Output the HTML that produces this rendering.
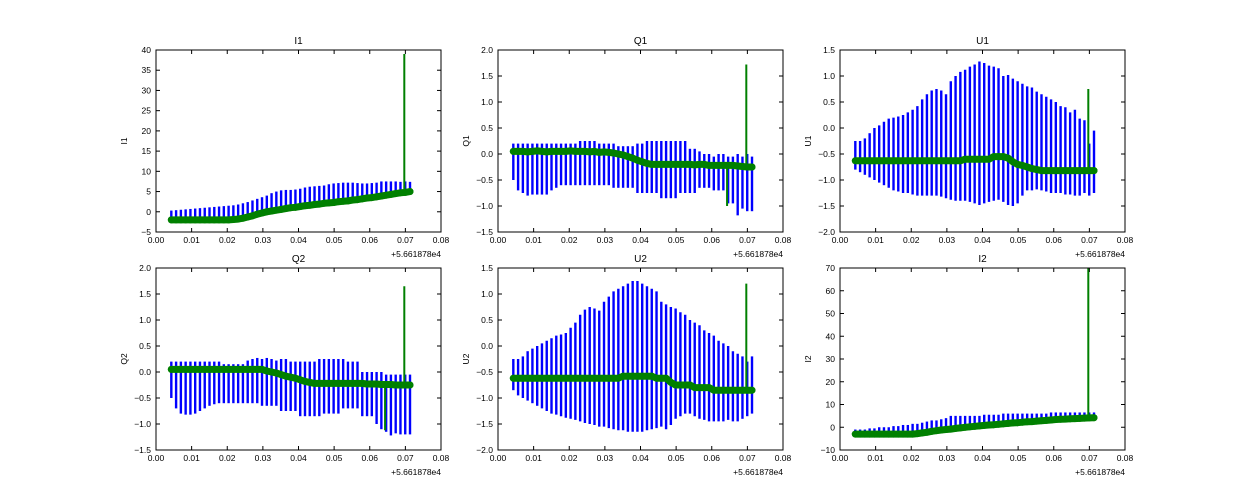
<!DOCTYPE html>
<html><head><meta charset="utf-8">
<style>
body{margin:0;background:#fff;}
svg{display:block;font-family:"Liberation Sans","DejaVu Sans",sans-serif;}
</style></head>
<body>
<svg id="chart" width="1250" height="500" viewBox="0 0 1250 500"></svg>
<script>
// ---- data ----
const xStart = 0.0043;
const xStep = 0.00134;
const xTicks = [0.00,0.01,0.02,0.03,0.04,0.05,0.06,0.07,0.08];
const offsetLabel = "+5.661878e4";

const i1Center = [-2,-2,-2,-2,-2,-2,-2,-2,-2,-2,-2,-2,-2,-1.9,-1.8,-1.6,-1.3,-1.0,-0.6,-0.3,0,0.2,0.4,0.6,0.8,1.0,1.1,1.3,1.5,1.6,1.8,1.9,2.1,2.2,2.3,2.5,2.6,2.7,2.9,3.0,3.2,3.4,3.5,3.7,3.9,4.1,4.3,4.5,4.7,4.8,5.0];
const i1Hi = [0.3,0.4,0.5,0.6,0.7,0.8,0.9,1.0,1.1,1.2,1.3,1.4,1.5,1.6,1.8,2.1,2.4,2.8,3.2,3.6,4.0,4.6,5.0,5.3,5.4,5.4,5.5,5.7,6.0,6.2,6.3,6.4,6.5,6.8,7.0,7.1,7.2,7.2,7.2,7.1,7.0,7.0,7.1,7.2,7.5,7.5,7.5,7.5,7.4,7.5,7.4];
const i1Lo = [-2.5,-2.5,-2.5,-2.5,-2.5,-2.5,-2.5,-2.5,-2.5,-2.5,-2.5,-2.5,-2.5,-2.4,-2.3,-2.1,-1.8,-1.5,-1.1,-0.8,-0.5,-0.3,-0.1,0.1,0.3,0.5,0.6,0.8,1.0,1.1,1.3,1.4,1.6,1.7,1.8,2.0,2.1,2.2,2.4,2.5,2.7,2.9,3.0,3.2,3.4,3.6,3.8,4.0,4.2,4.3,4.5];

const q1Center = [0.05,0.05,0.05,0.04,0.05,0.06,0.05,0.04,0.05,0.05,0.05,0.05,0.06,0.05,0.05,0.05,0.04,0.05,0.03,0.04,0.03,0.02,0.0,-0.02,-0.05,-0.08,-0.12,-0.15,-0.18,-0.2,-0.2,-0.2,-0.2,-0.2,-0.2,-0.2,-0.2,-0.2,-0.21,-0.2,-0.2,-0.22,-0.22,-0.22,-0.22,-0.22,-0.22,-0.23,-0.24,-0.25,-0.25];
const q1Hi = [0.2,0.2,0.2,0.2,0.2,0.2,0.2,0.2,0.2,0.2,0.2,0.2,0.2,0.2,0.25,0.25,0.25,0.25,0.2,0.2,0.2,0.2,0.15,0.15,0.15,0.15,0.2,0.2,0.25,0.25,0.25,0.25,0.25,0.25,0.25,0.25,0.25,0.1,0.1,0.05,0.0,0.0,-0.05,0.0,0.0,-0.05,-0.05,0.0,-0.05,0.0,-0.05];
const q1Lo = [-0.5,-0.7,-0.75,-0.8,-0.78,-0.78,-0.78,-0.78,-0.7,-0.65,-0.6,-0.6,-0.6,-0.6,-0.6,-0.6,-0.6,-0.6,-0.6,-0.6,-0.6,-0.65,-0.65,-0.65,-0.65,-0.65,-0.75,-0.75,-0.75,-0.75,-0.75,-0.85,-0.85,-0.85,-0.85,-0.75,-0.75,-0.75,-0.75,-0.65,-0.65,-0.65,-0.7,-0.7,-0.7,-0.95,-0.95,-1.18,-1.05,-1.1,-1.1];

const u1Center = [-0.63,-0.63,-0.63,-0.63,-0.63,-0.63,-0.63,-0.63,-0.63,-0.63,-0.63,-0.63,-0.63,-0.63,-0.63,-0.63,-0.63,-0.63,-0.63,-0.63,-0.63,-0.63,-0.63,-0.6,-0.6,-0.6,-0.6,-0.6,-0.6,-0.55,-0.55,-0.55,-0.58,-0.65,-0.7,-0.72,-0.75,-0.78,-0.8,-0.82,-0.82,-0.82,-0.82,-0.82,-0.82,-0.82,-0.82,-0.82,-0.82,-0.82,-0.82];
const u1Hi = [-0.25,-0.25,-0.2,-0.1,0.0,0.05,0.12,0.18,0.2,0.22,0.25,0.3,0.35,0.42,0.55,0.65,0.72,0.75,0.72,0.65,0.9,1.0,1.08,1.12,1.18,1.22,1.28,1.25,1.2,1.18,1.15,1.0,1.02,0.95,0.9,0.85,0.8,0.78,0.7,0.65,0.6,0.55,0.5,0.42,0.4,0.3,0.35,0.18,0.15,-0.3,-0.05];
const u1Lo = [-0.8,-0.85,-0.9,-0.95,-1.0,-1.05,-1.1,-1.15,-1.2,-1.22,-1.25,-1.25,-1.28,-1.3,-1.3,-1.3,-1.3,-1.3,-1.32,-1.35,-1.38,-1.4,-1.4,-1.4,-1.42,-1.45,-1.48,-1.45,-1.42,-1.4,-1.38,-1.42,-1.48,-1.5,-1.45,-1.3,-1.2,-1.2,-1.18,-1.2,-1.22,-1.25,-1.25,-1.25,-1.28,-1.28,-1.3,-1.3,-1.25,-1.3,-1.25];

const q2Center = [0.05,0.05,0.05,0.05,0.05,0.05,0.05,0.05,0.05,0.05,0.05,0.05,0.05,0.05,0.05,0.05,0.05,0.05,0.05,0.05,0.02,0.0,-0.02,-0.05,-0.08,-0.1,-0.12,-0.15,-0.18,-0.2,-0.22,-0.22,-0.22,-0.22,-0.22,-0.22,-0.22,-0.22,-0.22,-0.22,-0.22,-0.23,-0.23,-0.23,-0.24,-0.24,-0.24,-0.25,-0.25,-0.25,-0.25];
const q2Hi = [0.2,0.2,0.2,0.2,0.2,0.2,0.2,0.2,0.2,0.2,0.2,0.15,0.15,0.15,0.15,0.15,0.22,0.25,0.27,0.25,0.27,0.25,0.22,0.25,0.25,0.2,0.2,0.2,0.2,0.2,0.2,0.25,0.25,0.25,0.25,0.25,0.25,0.2,0.2,0.2,0.0,0.0,0.0,0.0,0.0,-0.05,-0.05,-0.05,-0.05,-0.05,-0.05];
const q2Lo = [-0.5,-0.7,-0.8,-0.82,-0.82,-0.8,-0.75,-0.7,-0.65,-0.62,-0.6,-0.6,-0.6,-0.6,-0.6,-0.6,-0.6,-0.6,-0.6,-0.65,-0.65,-0.65,-0.65,-0.75,-0.75,-0.75,-0.75,-0.85,-0.85,-0.85,-0.85,-0.85,-0.8,-0.8,-0.8,-0.8,-0.7,-0.7,-0.7,-0.7,-0.85,-0.85,-0.85,-1.0,-1.1,-1.15,-1.22,-1.18,-1.2,-1.2,-1.2];

const u2Center = [-0.62,-0.62,-0.62,-0.62,-0.62,-0.62,-0.62,-0.62,-0.62,-0.62,-0.62,-0.62,-0.62,-0.62,-0.62,-0.62,-0.62,-0.62,-0.62,-0.62,-0.62,-0.62,-0.62,-0.58,-0.58,-0.58,-0.58,-0.58,-0.58,-0.58,-0.62,-0.62,-0.62,-0.7,-0.75,-0.75,-0.75,-0.75,-0.8,-0.8,-0.8,-0.8,-0.85,-0.85,-0.85,-0.85,-0.85,-0.85,-0.85,-0.85,-0.85];
const u2Hi = [-0.25,-0.25,-0.2,-0.1,-0.05,0.0,0.05,0.1,0.15,0.2,0.22,0.25,0.35,0.45,0.6,0.7,0.75,0.72,0.68,0.85,0.95,1.05,1.1,1.15,1.2,1.25,1.25,1.2,1.15,1.1,1.05,0.85,0.8,0.75,0.72,0.65,0.6,0.5,0.45,0.4,0.3,0.25,0.2,0.1,0.05,0.0,-0.1,-0.15,-0.2,-0.3,-0.2];
const u2Lo = [-0.85,-0.95,-1.0,-1.05,-1.1,-1.15,-1.2,-1.25,-1.3,-1.32,-1.35,-1.38,-1.4,-1.42,-1.45,-1.48,-1.5,-1.52,-1.55,-1.55,-1.58,-1.6,-1.62,-1.62,-1.65,-1.65,-1.65,-1.65,-1.62,-1.6,-1.58,-1.55,-1.6,-1.52,-1.4,-1.35,-1.3,-1.3,-1.35,-1.4,-1.42,-1.45,-1.45,-1.45,-1.45,-1.42,-1.45,-1.45,-1.4,-1.35,-1.3];

const i2Center = [-3,-3,-3,-3,-3,-3,-3,-3,-3,-3,-3,-3,-3,-2.8,-2.5,-2.2,-1.8,-1.5,-1.2,-1,-0.8,-0.5,-0.3,0,0.2,0.4,0.6,0.8,1.0,1.1,1.3,1.5,1.7,1.9,2.0,2.2,2.4,2.5,2.7,2.9,3.0,3.2,3.4,3.5,3.6,3.7,3.8,3.9,4.0,4.1,4.2];
const i2Hi = [-1,-1,-1,-0.5,-0.5,0,0,0,0.5,0.5,1,1,1.5,1.5,2,2.5,3,3,3.5,4,5,5,5,5,5,5,5,5.5,5.5,5.5,5.5,6,6,6,6,6,6,6,6,6,6,6.5,6.5,6.5,6.5,6.5,6.5,6.5,6.5,6.5,6.5];
const i2Lo = [-4,-4,-4,-4,-4,-4,-4,-4,-4,-4,-4,-4,-4,-3.8,-3.5,-3.2,-2.8,-2.5,-2.2,-2,-1.8,-1.5,-1.3,-1,-0.8,-0.6,-0.4,-0.2,0,0.1,0.3,0.5,0.7,0.9,1.0,1.2,1.4,1.5,1.7,1.9,2.0,2.2,2.4,2.5,2.6,2.7,2.8,2.9,3.0,3.1,3.2];

const spikeX = [0.0697];
const i1Spike = [39];
const q1Spike = [1.72];
const u1Spike = [0.75];
const q2Spike = [1.65];
const u2Spike = [1.2];
const i2Spike = [70];
const dropX = [0.0643];
const q1Drop = [-1.0];
const q2Drop = [-1.12];

const panels = [
  {name:'I1', left:156, top:50, yMin:-5, yMax:40, yTicks:[-5,0,5,10,15,20,25,30,35,40], fmt:v=>String(v), c:i1Center, hi:i1Hi, lo:i1Lo, spike:i1Spike, drop:null},
  {name:'Q1', left:498, top:50, yMin:-1.5, yMax:2, yTicks:[-1.5,-1,-0.5,0,0.5,1,1.5,2], fmt:v=>v.toFixed(1), c:q1Center, hi:q1Hi, lo:q1Lo, spike:q1Spike, drop:q1Drop},
  {name:'U1', left:840, top:50, yMin:-2, yMax:1.5, yTicks:[-2,-1.5,-1,-0.5,0,0.5,1,1.5], fmt:v=>v.toFixed(1), c:u1Center, hi:u1Hi, lo:u1Lo, spike:u1Spike, drop:null},
  {name:'Q2', left:156, top:268, yMin:-1.5, yMax:2, yTicks:[-1.5,-1,-0.5,0,0.5,1,1.5,2], fmt:v=>v.toFixed(1), c:q2Center, hi:q2Hi, lo:q2Lo, spike:q2Spike, drop:q2Drop},
  {name:'U2', left:498, top:268, yMin:-2, yMax:1.5, yTicks:[-2,-1.5,-1,-0.5,0,0.5,1,1.5], fmt:v=>v.toFixed(1), c:u2Center, hi:u2Hi, lo:u2Lo, spike:u2Spike, drop:null},
  {name:'I2', left:840, top:268, yMin:-10, yMax:70, yTicks:[-10,0,10,20,30,40,50,60,70], fmt:v=>String(v), c:i2Center, hi:i2Hi, lo:i2Lo, spike:i2Spike, drop:null}
];
const W = 285, H = 182;
const NS = 'http://www.w3.org/2000/svg';
const svg = document.getElementById('chart');
function mk(tag, attrs, parent){
  const e = document.createElementNS(NS, tag);
  for (const k in attrs) e.setAttribute(k, attrs[k]);
  (parent||svg).appendChild(e);
  return e;
}
function minus(s){return s.replace('-', '\u2212');}

panels.forEach(p=>{
  const g = mk('g', {});
  
  
  const sx = v => p.left + v / 0.08 * W;
  const sy = v => p.top + (p.yMax - v) / (p.yMax - p.yMin) * H;
  const clip = 'clip-' + p.name;
  const cp = mk('clipPath', {id: clip}, g);
  mk('rect', {x:p.left, y:p.top, width:W, height:H}, cp);
  const plot = mk('g', {'clip-path':'url(#'+clip+')'}, g);
  
  
  p.c.forEach((v,i)=>{
    const x = sx(xStart + i*xStep);
    const bar = mk('line', {x1:x, x2:x, y1:sy(p.hi[i]), y2:sy(p.lo[i]), stroke:'#0000ff', 'stroke-width':2.4}, plot);
    
    
  });
  p.spike.forEach((v,k)=>{
    const x = sx(spikeX[k]);
    const idx = Math.round((spikeX[k]-xStart)/xStep);
    const s = mk('line', {x1:x, x2:x, y1:sy(v), y2:sy(p.c[idx]), stroke:'#008000', 'stroke-width':2}, plot);
    
    
  });
  if (p.drop) p.drop.forEach((v,k)=>{
    const x = sx(dropX[k]);
    const idx = Math.round((dropX[k]-xStart)/xStep);
    const s = mk('line', {x1:x, x2:x, y1:sy(p.c[idx]), y2:sy(v), stroke:'#008000', 'stroke-width':2}, plot);
    
    
  });
  const pts = p.c.map((v,i)=> sx(xStart+i*xStep).toFixed(1)+','+sy(v).toFixed(1)).join(' ');
  const pl = mk('polyline', {points:pts, fill:'none', stroke:'#008000', 'stroke-width':7, 'stroke-linejoin':'round', 'stroke-linecap':'round'}, plot);
  
  
  p.c.forEach((v,i)=>{
    const m = mk('circle', {cx:sx(xStart+i*xStep), cy:sy(v), r:3.5, fill:'#008000'}, plot);
    
    
  });
  const fr = mk('rect', {x:p.left, y:p.top, width:W, height:H, fill:'none', stroke:'#000', 'stroke-width':1}, g);
  
  
  xTicks.forEach(t=>{
    const x = sx(t);
    mk('line', {x1:x, x2:x, y1:p.top+H, y2:p.top+H-4, stroke:'#000'}, g);
    mk('line', {x1:x, x2:x, y1:p.top, y2:p.top+4, stroke:'#000'}, g);
    const tl = mk('text', {x:x, y:p.top+H+11, 'font-size':8.5, 'text-anchor':'middle', fill:'#000'}, g);
    tl.textContent = t.toFixed(2);
    
    
  });
  p.yTicks.forEach(t=>{
    const y = sy(t);
    mk('line', {x1:p.left, x2:p.left+4, y1:y, y2:y, stroke:'#000'}, g);
    mk('line', {x1:p.left+W, x2:p.left+W-4, y1:y, y2:y, stroke:'#000'}, g);
    const tl = mk('text', {x:p.left-5, y:y+3, 'font-size':8.5, 'text-anchor':'end', fill:'#000'}, g);
    tl.textContent = minus(p.fmt(t));
    
    
  });
  const off = mk('text', {x:p.left+W, y:p.top+H+25, 'font-size':8.5, 'text-anchor':'end', fill:'#000'}, g);
  off.textContent = offsetLabel;
  
  
  const ti = mk('text', {x:p.left+W/2, y:p.top-6, 'font-size':10, 'text-anchor':'middle', fill:'#000'}, g);
  ti.textContent = p.name;
  
  
  const yl = mk('text', {x:0, y:0, 'font-size':8.5, 'text-anchor':'middle', fill:'#000', transform:'translate('+(p.left-29)+','+(p.top+H/2)+') rotate(-90)'}, g);
  yl.textContent = p.name;
  
  
});
</script>
</body></html>
